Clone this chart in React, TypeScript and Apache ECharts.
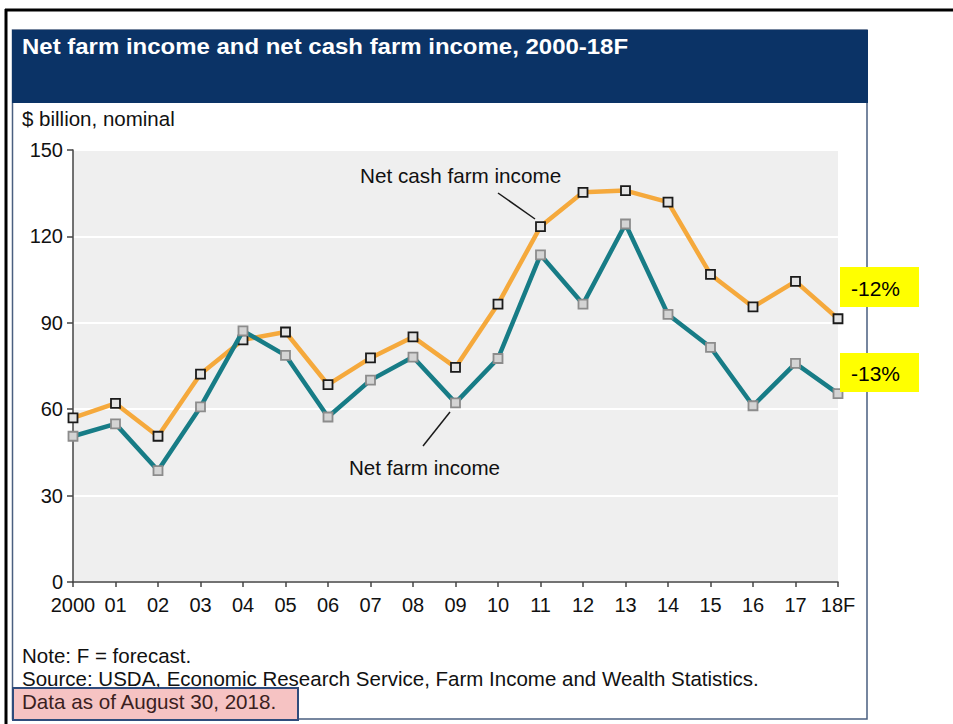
import React, { useEffect, useRef } from "react";
import * as echarts from "echarts";

const years = ["2000", "01", "02", "03", "04", "05", "06", "07", "08", "09", "10", "11", "12", "13", "14", "15", "16", "17", "18F"];
const netCashFarmIncome = [57.0, 62.0, 50.6, 72.2, 84.1, 86.8, 68.5, 77.8, 85.1, 74.5, 96.5, 123.4, 135.3, 135.9, 131.9, 106.8, 95.5, 104.4, 91.4];
const netFarmIncome = [50.6, 54.9, 38.7, 60.8, 87.2, 78.7, 57.3, 70.1, 78.1, 62.2, 77.6, 113.6, 96.5, 124.3, 92.9, 81.5, 61.2, 75.9, 65.4];
const yTicks = { min: 0, max: 150, interval: 30 };

const FONT = '"Liberation Sans", Arial, sans-serif';

export default function App() {
  const ref = useRef<HTMLDivElement>(null);
  useEffect(() => {
    if (!ref.current) return;
    const chart = echarts.init(ref.current, null, { renderer: "svg" });
    const txt = (text: string, x: number, y: number, size: number, extra: any = {}) => ({
      type: "text",
      x,
      y,
      z: 100,
      style: {
        text,
        fill: "#111111",
        fontSize: size,
        fontFamily: FONT,
        verticalAlign: "middle",
        align: "left",
        ...extra,
      },
    });
    chart.setOption({
      animation: false,
      backgroundColor: "#ffffff",
      textStyle: { fontFamily: FONT },
      grid: {
        left: 73,
        right: 115,
        top: 150,
        bottom: 142,
        show: true,
        backgroundColor: "#efefef",
        borderWidth: 0,
        outerBoundsMode: "none",
      },
      xAxis: {
        type: "category",
        data: years,
        boundaryGap: false,
        axisLine: { show: true, lineStyle: { color: "#444", width: 1.5 } },
        axisTick: { show: true, length: 5, lineStyle: { color: "#444", width: 1.5 } },
        axisLabel: { color: "#111", fontSize: 20, margin: 13, interval: 0, fontFamily: FONT },
        splitLine: { show: false },
      },
      yAxis: {
        type: "value",
        min: yTicks.min,
        max: yTicks.max,
        interval: yTicks.interval,
        axisLine: { show: true, lineStyle: { color: "#444", width: 1.5 } },
        axisTick: { show: true, length: 6, lineStyle: { color: "#444", width: 1.5 } },
        axisLabel: { color: "#111", fontSize: 20, margin: 10, fontFamily: FONT },
        splitLine: { show: true, lineStyle: { color: "#ffffff", width: 2 } },
      },
      series: [
        {
          name: "Net cash farm income",
          type: "line",
          data: netCashFarmIncome,
          symbol: "rect",
          symbolSize: 9,
          showSymbol: true,
          lineStyle: { color: "#f5a93c", width: 4.5 },
          itemStyle: { color: "#e4e4e4", borderColor: "#1a1a1a", borderWidth: 1.8 },
          z: 2,
        },
        {
          name: "Net farm income",
          type: "line",
          data: netFarmIncome,
          symbol: "rect",
          symbolSize: 9,
          showSymbol: true,
          lineStyle: { color: "#177c86", width: 4.5 },
          itemStyle: { color: "#d4d4d4", borderColor: "#8c8c8c", borderWidth: 1.8 },
          z: 3,
        },
      ],
      graphic: [
        { type: "line", z: 100, shape: { x1: 5, y1: 10, x2: 953, y2: 10 }, style: { stroke: "#000", lineWidth: 3 } },
        { type: "line", z: 100, shape: { x1: 6, y1: 9, x2: 6, y2: 724 }, style: { stroke: "#000", lineWidth: 3 } },
        { type: "rect", z: 1, shape: { x: 12.5, y: 30, width: 854.5, height: 689 }, style: { fill: "transparent", stroke: "#4a5f80", lineWidth: 1.5 } },
        { type: "rect", z: 2, shape: { x: 12, y: 30, width: 856, height: 73 }, style: { fill: "#0b3366" } },
        {
          type: "text",
          x: 22,
          y: 46,
          z: 100,
          scaleX: 1.09,
          style: { text: "Net farm income and net cash farm income, 2000-18F", fill: "#ffffff", fontSize: 22, fontWeight: "bold", fontFamily: FONT, verticalAlign: "middle" },
        },
        txt("$ billion, nominal", 22, 118, 20.5),
        txt("Net cash farm income", 360, 175, 20.7),
        { type: "line", z: 100, shape: { x1: 498, y1: 193, x2: 535, y2: 219 }, style: { stroke: "#1a1a1a", lineWidth: 1.5 } },
        txt("Net farm income", 349, 467, 20.6),
        { type: "line", z: 100, shape: { x1: 450, y1: 412, x2: 423, y2: 446 }, style: { stroke: "#1a1a1a", lineWidth: 1.5 } },
        { type: "rect", z: 100, shape: { x: 840, y: 267, width: 79, height: 40 }, style: { fill: "#ffff00" } },
        txt("-12%", 851, 288, 21, { fill: "#000" }),
        { type: "rect", z: 100, shape: { x: 840, y: 353, width: 79, height: 39 }, style: { fill: "#ffff00" } },
        txt("-13%", 851, 373, 21, { fill: "#000" }),
        txt("Note: F = forecast.", 22, 655, 20.5),
        txt("Source: USDA, Economic Research Service, Farm Income and Wealth Statistics.", 22, 678, 20.5),
        { type: "rect", z: 100, shape: { x: 13, y: 688, width: 285, height: 32 }, style: { fill: "#f6c3c3", stroke: "#2f4c7c", lineWidth: 2 } },
        txt("Data as of August 30, 2018.", 22, 701, 20.6, { fill: "#3b1f1f" }),
      ],
    });
    return () => chart.dispose();
  }, []);
  return <div ref={ref} style={{ position: "absolute", left: 0, top: 0, width: 953, height: 724 }} />;
}
